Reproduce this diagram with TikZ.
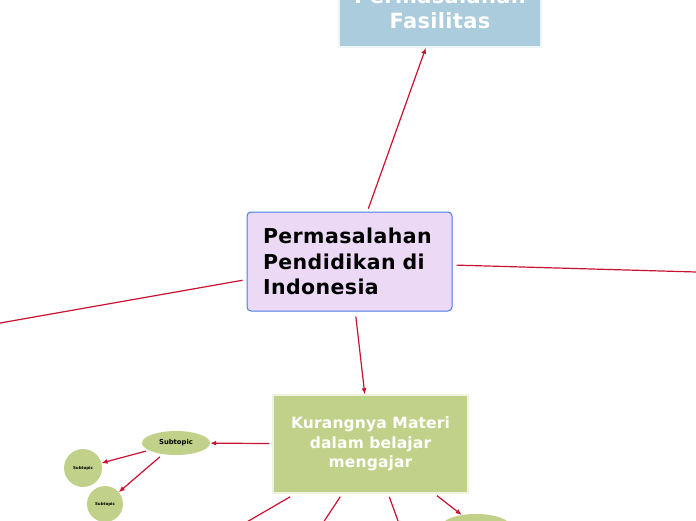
\documentclass[tikz,border=0pt]{standalone}
\usepackage{fontspec}
\setmainfont{DejaVu Sans}
\usetikzlibrary{arrows.meta,calc,shapes.geometric}
\definecolor{conn}{RGB}{200,18,48}
\definecolor{cpurple}{RGB}{235,217,245}
\definecolor{cblue}{RGB}{70,125,228}
\definecolor{tblue}{RGB}{170,204,221}
\definecolor{tgreen}{RGB}{194,209,138}
\tikzset{
  ln/.style={draw=conn,line width=1.2pt},
  arr/.style={ln,-{Latex[length=6pt,width=5pt]}},
  central/.style={draw=cblue,fill=cpurple,rounded corners=4pt,line width=1pt,
    minimum width=205pt,minimum height=99pt,text width=173pt,align=left,inner sep=0pt,
    font=\bfseries\fontsize{20.5}{25.5}\selectfont\addfontfeature{LetterSpace=2}},
  topbox/.style={draw=white!80!tblue,fill=tblue,line width=1.5pt,text=white,
    minimum width=202pt,minimum height=78pt,align=center,inner sep=0pt,
    font=\bfseries\fontsize{21}{25}\selectfont\addfontfeature{LetterSpace=1.5}},
  gbox/.style={draw=white!75!tgreen,fill=tgreen,line width=1.5pt,text=white,
    minimum width=195pt,minimum height=98pt,align=center,inner sep=0pt,
    font=\bfseries\fontsize{15.5}{19.5}\selectfont\addfontfeature{LetterSpace=1}},
  subell/.style={ellipse,fill=tgreen,minimum width=68pt,minimum height=24pt,inner sep=0pt,
    font=\bfseries\fontsize{6.8}{8}\selectfont},
  subcirc/.style={circle,fill=tgreen,inner sep=0pt,font=\bfseries\fontsize{4}{5}\selectfont}
}
\begin{document}
\begin{tikzpicture}[x=1pt,y=-1pt]
\clip (0,0) rectangle (696,520);
\useasboundingbox (0,0) rectangle (696,520);
\node[central] (c) at (349.5,261.5) {Permasalahan\\Pendidikan di\\Indonesia};
\node[topbox] (f) at (440,8) {Permasalahan\\Fasilitas};
\node[gbox] (k) at (370.5,444) {Kurangnya Materi\\dalam belajar\\mengajar};
\node[subell] (s) at (176,443) {Subtopic};
\node[subcirc,minimum size=38pt] (c1) at (83,468) {Subtopic};
\node[subcirc,minimum size=36pt] (c2) at (105,504) {Subtopic};
\node[subell] (s4) at (476,526) {Subtopic};
\coordinate (r) at (700,272.1);
\coordinate (l) at (-5,323.9);
\coordinate (b1) at (233,530);
\coordinate (b2) at (318.3,530);
\coordinate (b3) at (401.3,530);
\draw[arr,shorten <=3pt] (c) -- (f);
\draw[ln,shorten <=4pt] ([yshift=-3.5pt]c.east) -- (r);
\draw[ln,shorten <=4pt] (c) -- (l);
\draw[arr,shorten <=5pt] (c) -- (k);
\draw[arr,shorten <=3pt] (k) -- (s);
\draw[arr,shorten <=3pt] (s) -- (c1);
\draw[arr,shorten <=4pt] (s) -- (c2);
\draw[arr,shorten <=3pt] (k) -- (s4);
\draw[ln] ([xshift=18pt,yshift=-3pt]k.south west) -- (b1);
\draw[ln] ([xshift=68pt,yshift=-3pt]k.south west) -- (b2);
\draw[ln] ([xshift=117pt,yshift=-3pt]k.south west) -- (b3);
\end{tikzpicture}
\end{document}
